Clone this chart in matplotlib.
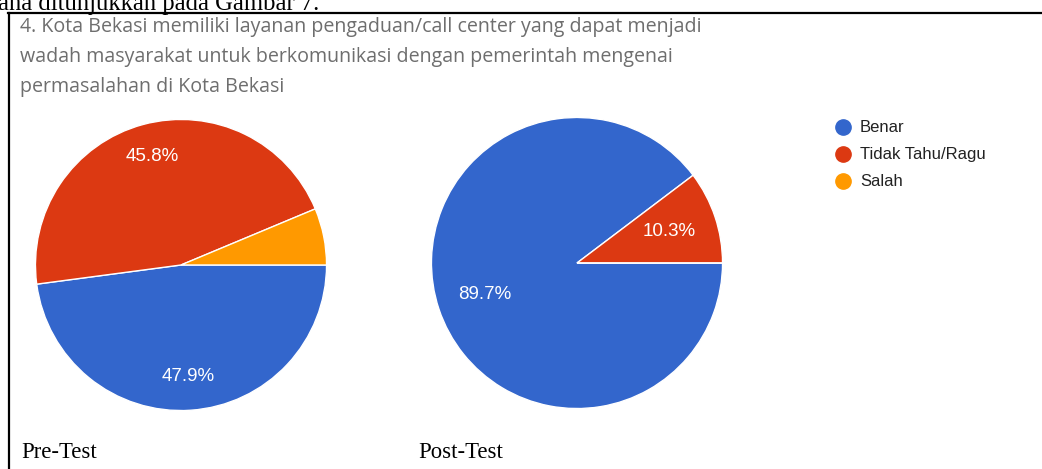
import matplotlib.pyplot as plt
from matplotlib.lines import Line2D

W, H = 1042, 469

categories = ['Benar', 'Tidak Tahu/Ragu', 'Salah']
colors = ['#3366cc', '#dc3912', '#ff9900']
pre_test = [47.9, 45.8, 6.3]
post_test = [89.7, 10.3, 0.0]

title_lines = [
    '4. Kota Bekasi memiliki layanan pengaduan/call center yang dapat menjadi',
    'wadah masyarakat untuk berkomunikasi dengan pemerintah mengenai',
    'permasalahan di Kota Bekasi',
]


def px(x, y):
    # pixel position (from top-left) -> figure fraction
    return x / W, 1 - y / H


def pie_axes(cx, cy, r):
    return fig.add_axes([(cx - r) / W, 1 - (cy + r) / H, 2 * r / W, 2 * r / H])


def show_pct(p):
    return '' if p < 7 else '%.1f%%' % p


fig = plt.figure(figsize=(W / 100, H / 100), dpi=100)

# page fragment above the box
fig.text(*px(-2, 10), 'ana ditunjukkan pada Gambar 7.', family='Liberation Serif',
         fontsize=17.7, va='baseline', ha='left', color='black')

# box lines (top and left)
fig.add_artist(Line2D([8 / W, 1], [1 - 13 / H, 1 - 13 / H], color='black', lw=1.6))
fig.add_artist(Line2D([9 / W, 9 / W], [0, 1 - 13 / H], color='black', lw=1.6))

for i, line in enumerate(title_lines):
    fig.text(*px(20, 27 + i * 30), line, family='Open Sans', fontsize=14.1,
             color='#6e6e6e', va='center', ha='left')

for (cx, cy, vals, dist) in [(181, 265, pre_test, 0.77), (577, 263, post_test, 0.67)]:
    ax = pie_axes(cx, cy, 147)
    wedges, texts, autotexts = ax.pie(
        vals, colors=colors, startangle=0, counterclock=False,
        autopct=show_pct, pctdistance=dist, radius=1,
        wedgeprops=dict(edgecolor='white', linewidth=1.0),
        textprops=dict(color='white', fontsize=13.5, family='Liberation Sans'))
    ax.set_xlim(-1.01, 1.01)
    ax.set_ylim(-1.01, 1.01)
    ax.set_aspect('equal')
    ax.axis('off')

# legend
for i, (name, c) in enumerate(zip(categories, colors)):
    y = 127 + i * 27
    fig.add_artist(Line2D([843 / W], [1 - y / H], marker='o', markersize=11,
                          markerfacecolor=c, markeredgecolor=c, linestyle='none'))
    fig.text(*px(860, y), name, family='Liberation Sans', fontsize=12,
             color='#222222', va='center', ha='left')

fig.text(*px(21, 458), 'Pre-Test', family='Liberation Serif', fontsize=16.4,
         va='baseline', ha='left')
fig.text(*px(418, 458), 'Post-Test', family='Liberation Serif', fontsize=16.4,
         va='baseline', ha='left')

fig.savefig('out.png', dpi=100)
